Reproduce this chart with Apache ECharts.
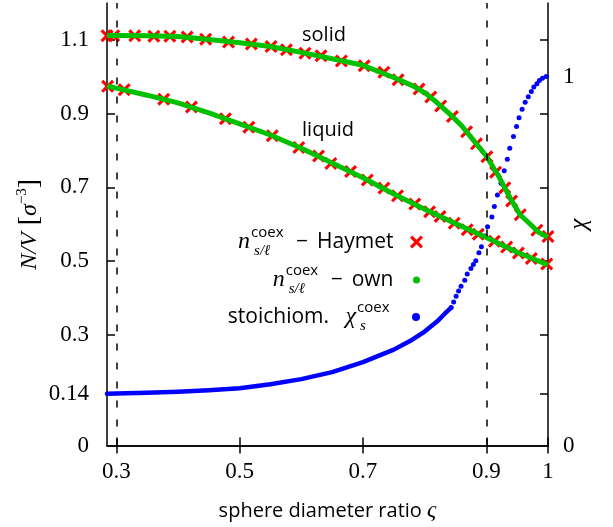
<!DOCTYPE html>
<html><head><meta charset="utf-8">
<script src="https://cdn.jsdelivr.net/npm/echarts@6/dist/echarts.min.js"></script>
<style>html,body{margin:0;padding:0;background:#fff}#c{width:613px;height:527px}</style>
</head><body><div id="c"></div>
<script>
// ---- axis ticks / labels ----
const xTickValues = [0.3, 0.5, 0.7, 0.9, 1];
const yTickValues = [0.14, 0.3, 0.5, 0.7, 0.9, 1.1];
const yLabelValues = [0, 0.14, 0.3, 0.5, 0.7, 0.9, 1.1];
const y2LabelValues = [0, 1];
const coexBounds = [0.3, 0.9];

// ---- Haymet (red crosses) ----
const haymetSolidX = [0.285, 0.296, 0.330, 0.361, 0.387, 0.415, 0.445, 0.482, 0.519, 0.551, 0.576, 0.606, 0.632, 0.665, 0.702, 0.734, 0.757, 0.791, 0.810, 0.826, 0.845, 0.868, 0.884, 0.901, 0.915, 0.930, 0.941, 0.955, 0.982, 1.000];
const haymetSolidY = [1.111, 1.111, 1.111, 1.110, 1.110, 1.108, 1.102, 1.094, 1.089, 1.082, 1.073, 1.064, 1.057, 1.043, 1.030, 1.012, 0.992, 0.967, 0.945, 0.921, 0.892, 0.851, 0.818, 0.783, 0.741, 0.699, 0.663, 0.626, 0.584, 0.567];
const haymetLiquidX = [0.286, 0.313, 0.377, 0.422, 0.477, 0.515, 0.553, 0.596, 0.628, 0.648, 0.680, 0.707, 0.734, 0.756, 0.784, 0.808, 0.825, 0.848, 0.869, 0.887, 0.913, 0.933, 0.952, 0.973, 0.998];
const haymetLiquidY = [0.974, 0.965, 0.939, 0.918, 0.886, 0.863, 0.840, 0.808, 0.785, 0.765, 0.743, 0.720, 0.698, 0.677, 0.655, 0.634, 0.621, 0.603, 0.585, 0.573, 0.554, 0.538, 0.522, 0.507, 0.492];

// ---- own (green) ----
const ownSolidX = [0.285, 0.30, 0.35, 0.40, 0.45, 0.50, 0.55, 0.60, 0.65, 0.70, 0.75, 0.78, 0.80, 0.82, 0.84, 0.86, 0.88, 0.90, 0.92, 0.94, 0.955, 0.97, 0.985, 1.0];
const ownSolidY = [1.112, 1.112, 1.111, 1.109, 1.101, 1.092, 1.082, 1.066, 1.049, 1.031, 0.998, 0.976, 0.957, 0.930, 0.900, 0.867, 0.826, 0.785, 0.730, 0.667, 0.625, 0.602, 0.578, 0.565];
const ownLiquidX = [0.285, 0.30, 0.35, 0.40, 0.45, 0.50, 0.55, 0.60, 0.65, 0.70, 0.75, 0.80, 0.85, 0.90, 0.95, 1.0];
const ownLiquidY = [0.975, 0.969, 0.950, 0.929, 0.902, 0.872, 0.842, 0.806, 0.766, 0.726, 0.682, 0.641, 0.602, 0.564, 0.524, 0.490];

// ---- stoichiometric chi (blue) ----
const chiLineX = [0.285, 0.30, 0.35, 0.40, 0.45, 0.50, 0.55, 0.60, 0.65, 0.70, 0.75, 0.78, 0.80, 0.82, 0.833, 0.843];
const chiLineY = [0.1405, 0.141, 0.143, 0.146, 0.150, 0.155, 0.166, 0.180, 0.199, 0.226, 0.260, 0.287, 0.309, 0.336, 0.358, 0.374];
const chiDotX = [0.843, 0.847, 0.851, 0.855, 0.859, 0.865, 0.869, 0.875, 0.879, 0.883, 0.888, 0.892, 0.898, 0.902, 0.909, 0.913, 0.918, 0.924, 0.929, 0.934, 0.938, 0.944, 0.949, 0.953, 0.958, 0.963, 0.968, 0.973, 0.977, 0.982, 0.986, 0.991, 0.997];
const chiDotY = [0.374, 0.389, 0.405, 0.419, 0.432, 0.448, 0.465, 0.480, 0.491, 0.501, 0.523, 0.539, 0.568, 0.593, 0.620, 0.648, 0.679, 0.711, 0.745, 0.776, 0.806, 0.838, 0.865, 0.889, 0.912, 0.931, 0.946, 0.960, 0.972, 0.981, 0.990, 0.996, 1.001];

const SERIF = '"Liberation Serif", "DejaVu Serif", serif';
const SANS = '"Open Sans", "DejaVu Sans", sans-serif';
const RED = '#ff0000', GREEN = '#00c000', BLUE = '#0000ff';
const xPath = 'path://M0,1.7L1.7,0L5,3.3L8.3,0L10,1.7L6.7,5L10,8.3L8.3,10L5,6.7L1.7,10L0,8.3L3.3,5Z';
const zip = (a, b) => a.map((v, i) => [v, b[i]]);

const legendRich = {
  n: { fontFamily: SERIF, fontStyle: 'italic', fontSize: 24, lineHeight: 34, color: '#000', align: 'left' },
  chi: { fontFamily: SERIF, fontStyle: 'italic', fontSize: 24, lineHeight: 34, color: '#000', align: 'left' },
  sup: { fontFamily: SANS, fontSize: 15, lineHeight: 16, verticalAlign: 'top', width: 1, align: 'left', padding: [0, 0, 0, 1], color: '#000' },
  sub: { fontFamily: SERIF, fontStyle: 'italic', fontSize: 15, lineHeight: 16, verticalAlign: 'bottom', width: 33, align: 'left', padding: [0, 0, 0, 2], color: '#000' },
  m: { fontFamily: SANS, fontSize: 21, padding: [0, 9, 0, 9], color: '#000', align: 'left' },
  t: { fontFamily: SANS, fontSize: 21, color: '#000', align: 'left' }
};
const legendText = {
  Haymet: '{n|n}{sup|coex}{sub|s/ℓ}{m|−}{t|Haymet}',
  own: '{n|n}{sup|coex}{sub|s/ℓ}{m|−}{t|own}',
  stoich: '{t|stoichiom.   }{chi|χ}{sup|coex}{sub|s}'
};
function mkLegend(name, icon, h, top, right) {
  return {
    data: [{ name: name, icon: icon }],
    orient: 'vertical', align: 'right', right: right, top: top,
    itemWidth: 36, itemHeight: h, padding: 0, selectedMode: false,
    formatter: n => legendText[n],
    textStyle: { color: '#000', rich: legendRich }
  };
}

const axisLineStyle = { color: '#000', width: 1.5 };
const chart = echarts.init(document.getElementById('c'), null, { renderer: 'canvas' });
chart.setOption({
  animation: false,
  backgroundColor: '#fff',
  grid: { left: 107, right: 65, top: 3, bottom: 81.5, containLabel: false, outerBoundsMode: 'none' },
  xAxis: [{
    type: 'value', min: 0.285, max: 1, position: 'bottom',
    axisLine: { lineStyle: axisLineStyle },
    axisTick: { inside: true, length: 8, lineStyle: axisLineStyle, customValues: xTickValues },
    axisLabel: { customValues: xTickValues, formatter: v => String(v), fontFamily: SERIF, fontSize: 23, color: '#000', margin: 15 },
    splitLine: { show: false },
    name: '{t|sphere diameter ratio }{v|ς}', nameLocation: 'middle', nameGap: 54,
    nameTextStyle: { rich: { t: { fontFamily: SANS, fontSize: 20, color: '#000' }, v: { fontFamily: SERIF, fontStyle: 'italic', fontSize: 23, color: '#000' } } }
  }, {
    type: 'value', min: 0.285, max: 1, position: 'top',
    axisLine: { lineStyle: axisLineStyle },
    axisTick: { inside: true, length: 8, lineStyle: axisLineStyle, customValues: xTickValues },
    axisLabel: { show: false }, splitLine: { show: false }
  }],
  yAxis: [{
    type: 'value', min: 0, max: 1.2, position: 'left',
    axisLine: { show: true, lineStyle: axisLineStyle },
    axisTick: { show: true, inside: true, length: 8, lineStyle: axisLineStyle, customValues: yTickValues },
    axisLabel: { customValues: yLabelValues, formatter: v => String(v), fontFamily: SERIF, fontSize: 23, color: '#000', margin: 18 },
    splitLine: { show: false },
    name: '{i|N/V}{r| [}{g|σ}{s|−3}{r|]}', nameLocation: 'middle', nameGap: 62, nameMoveOverlap: false,
    nameTextStyle: { rich: {
      i: { fontFamily: SERIF, fontStyle: 'italic', fontSize: 24, lineHeight: 30, color: '#000' },
      g: { fontFamily: SERIF, fontStyle: 'italic', fontSize: 24, lineHeight: 30, color: '#000' },
      r: { fontFamily: SERIF, fontSize: 28, lineHeight: 30, color: '#000' },
      s: { fontFamily: SERIF, fontSize: 15, lineHeight: 14, verticalAlign: 'top', color: '#000' }
    } }
  }, {
    type: 'value', min: 0, max: 1.2, position: 'right',
    axisLine: { show: true, lineStyle: axisLineStyle },
    axisTick: { show: true, inside: true, length: 8, lineStyle: axisLineStyle, customValues: yTickValues },
    axisLabel: { customValues: y2LabelValues, formatter: v => String(v), fontFamily: SERIF, fontSize: 23, color: '#000', margin: 15 },
    splitLine: { show: false },
    name: 'χ', nameLocation: 'middle', nameGap: 19, nameMoveOverlap: false,
    nameTextStyle: { fontFamily: SERIF, fontStyle: 'italic', fontSize: 25, color: '#000' }
  }],
  legend: [
    mkLegend('Haymet', xPath, 13, 225, 190),
    mkLegend('own', 'circle', 7, 263, 193),
    mkLegend('stoich', 'circle', 8, 300, 193)
  ],
  graphic: [
    { type: 'text', x: 324, y: 35, style: { text: 'solid', font: '20px ' + SANS, fill: '#000', align: 'center', verticalAlign: 'middle' } },
    { type: 'text', x: 328, y: 130, style: { text: 'liquid', font: '20px ' + SANS, fill: '#000', align: 'center', verticalAlign: 'middle' } }
  ],
  series: [
    {
      name: 'own', type: 'line', data: zip(ownSolidX, ownSolidY), showSymbol: false, symbol: 'none',
      lineStyle: { color: GREEN, width: 5, join: 'round' }, itemStyle: { color: GREEN },
      markLine: {
        silent: true, symbol: ['none', 'none'], label: { show: false },
        lineStyle: { color: '#000', width: 1.5, type: [7, 12] },
        data: coexBounds.map(v => ({ xAxis: v }))
      }
    },
    {
      name: 'own', type: 'line', data: zip(ownLiquidX, ownLiquidY), showSymbol: false, symbol: 'none',
      lineStyle: { color: GREEN, width: 5, join: 'round' }, itemStyle: { color: GREEN }
    },
    {
      name: 'Haymet', type: 'scatter', data: zip(haymetSolidX, haymetSolidY),
      symbol: xPath, symbolSize: 13, itemStyle: { color: RED, opacity: 1 }
    },
    {
      name: 'Haymet', type: 'scatter', data: zip(haymetLiquidX, haymetLiquidY),
      symbol: xPath, symbolSize: 13, itemStyle: { color: RED, opacity: 1 }
    },
    {
      name: 'stoich', type: 'line', yAxisIndex: 1, data: zip(chiLineX, chiLineY), showSymbol: false, symbol: 'none',
      lineStyle: { color: BLUE, width: 4.5, cap: 'round', join: 'round' }, itemStyle: { color: BLUE }
    },
    {
      name: 'stoich', type: 'scatter', yAxisIndex: 1, data: zip(chiDotX, chiDotY),
      symbol: 'circle', symbolSize: 5, itemStyle: { color: BLUE, opacity: 1 }
    }
  ]
});
</script>
</body></html>
